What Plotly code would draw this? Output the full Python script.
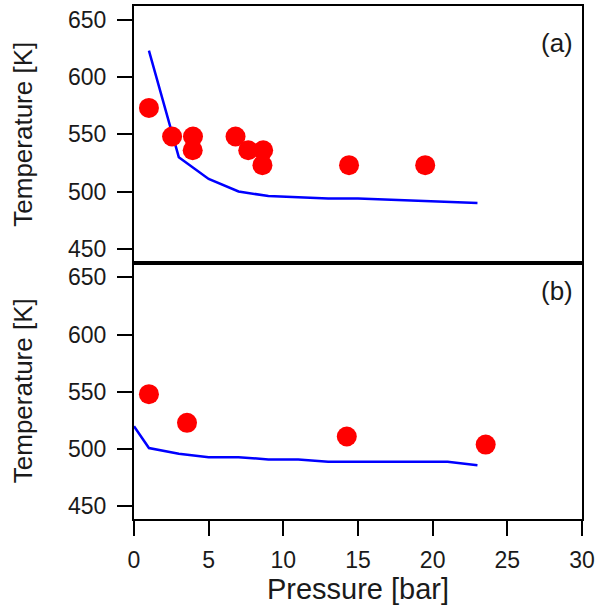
import plotly.graph_objects as go
from plotly.subplots import make_subplots

# Panel (a) data
a_points_x = [1.0, 2.55, 3.95, 3.93, 6.8, 7.65, 8.65, 8.6, 14.4, 19.5]
a_points_y = [573, 548, 548, 536, 548, 536, 536, 523, 523, 523]
a_line_x = [1, 3, 5, 7, 9, 11, 13, 15, 17, 19, 21, 23]
a_line_y = [623, 530, 511, 500, 496, 495, 494, 494, 493, 492, 491, 490]

# Panel (b) data
b_points_x = [1.0, 3.55, 14.25, 23.55]
b_points_y = [548, 523, 511, 504]
b_line_x = [0, 1, 3, 5, 7, 9, 11, 13, 15, 17, 19, 21, 23]
b_line_y = [520, 501, 496, 493, 493, 491, 491, 489, 489, 489, 489, 489, 486]

y_ticks = [450, 500, 550, 600, 650]
x_ticks = [0, 5, 10, 15, 20, 25, 30]
panel_labels = ["(a)", "(b)"]

FONT = "Liberation Sans, Arial, sans-serif"
TXT = "#1a1a1a"

fig = make_subplots(rows=2, cols=1, shared_xaxes=True, vertical_spacing=0)

for row, (lx, ly, px, py) in enumerate(
    [(a_line_x, a_line_y, a_points_x, a_points_y),
     (b_line_x, b_line_y, b_points_x, b_points_y)], start=1):
    fig.add_trace(go.Scatter(x=lx, y=ly, mode="lines",
                             line=dict(color="#0000FF", width=2.5),
                             showlegend=False), row=row, col=1)
    fig.add_trace(go.Scatter(x=px, y=py, mode="markers",
                             marker=dict(color="#FF0000", size=20, line=dict(width=0)),
                             showlegend=False), row=row, col=1)

axis_common = dict(showline=True, linecolor="black", linewidth=2, mirror=True,
                   showgrid=False, zeroline=False, ticks="outside", ticklen=15,
                   tickwidth=2, tickcolor="black", automargin=False,
                   tickfont=dict(family=FONT, size=23, color=TXT))

fig.update_yaxes(**axis_common, tickvals=y_ticks, ticklabelstandoff=6)
fig.update_yaxes(range=[438, 662], row=1, col=1,
                 title=dict(text="Temperature [K]", font=dict(family=FONT, size=26, color=TXT), standoff=28))
fig.update_yaxes(range=[439, 663], row=2, col=1,
                 title=dict(text="Temperature [K]", font=dict(family=FONT, size=26, color=TXT), standoff=28))

fig.update_xaxes(**axis_common, range=[0, 30], tickvals=x_ticks)
fig.update_xaxes(row=1, col=1, ticks="", showticklabels=False)
fig.update_xaxes(row=2, col=1, ticklabelstandoff=4,
                 title=dict(text="Pressure [bar]", font=dict(family=FONT, size=29, color=TXT), standoff=2))

for lbl, yy in zip(panel_labels, [0.928, 0.445]):
    fig.add_annotation(text=lbl, xref="paper", yref="paper", x=0.985, y=yy,
                       xanchor="right", yanchor="middle", showarrow=False,
                       font=dict(family=FONT, size=26, color=TXT))

fig.update_layout(width=596, height=609, plot_bgcolor="white", paper_bgcolor="white",
                  margin=dict(l=134, r=14, t=6, b=90))

fig.write_html("out.html", config={"displayModeBar": False},
               post_script="document.body.style.margin='0';")
